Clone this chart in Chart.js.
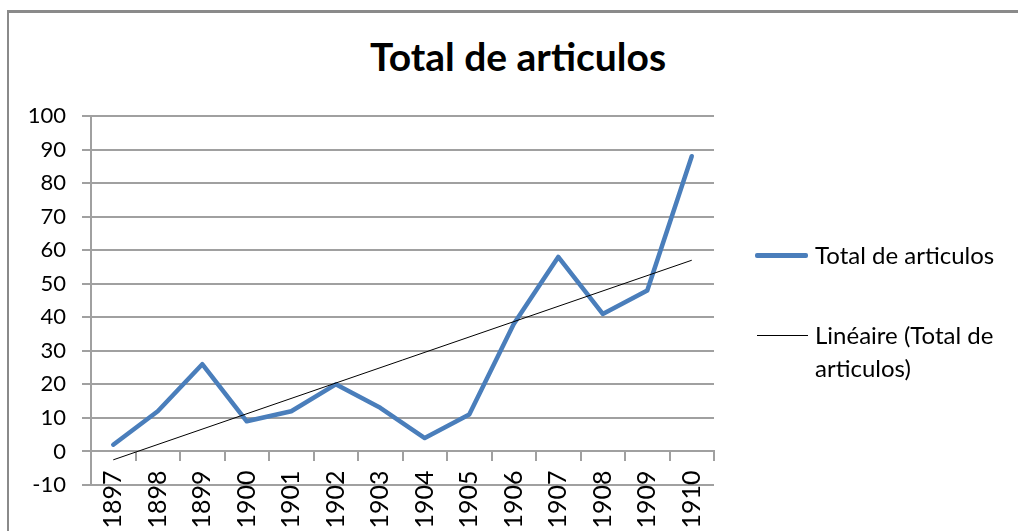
<!DOCTYPE html>
<html>
<head>
<meta charset="utf-8">
<script src="https://cdn.jsdelivr.net/npm/chart.js@4/dist/chart.umd.min.js"></script>
<style>
  html, body { margin: 0; padding: 0; background: #fff; }
  #wrap { position: relative; width: 1018px; height: 531px; overflow: hidden; font-family: Lato, sans-serif; }
  #frame { position: absolute; left: 7px; top: 10px; width: 1100px; height: 600px;
           border-top: 3px solid #8a8a8a; border-left: 2px solid #8a8a8a; }
  #title { position: absolute; left: 8px; width: 1020px; top: 33px; text-align: center;
           font-size: 39px; font-weight: bold; color: #000; }
  canvas { position: absolute; left: 0; top: 0; }
  .leg { position: absolute; font-size: 24px; color: #000; line-height: 33px; }
  .sw { position: absolute; }
</style>
</head>
<body>
<div id="wrap">
  <div id="frame"></div>
  <div id="title">Total de articulos</div>
  <canvas id="lineChart" width="1018" height="531"></canvas>
  <div class="sw" style="left:755px; top:253px; width:53px; height:5px; background:#4a7ebb; border-radius:2px;"></div>
  <div class="leg" style="left:815px; top:238px;">Total de articulos</div>
  <div class="sw" style="left:757px; top:335px; width:51px; height:1px; background:#000;"></div>
  <div class="leg" style="left:815px; top:318px;">Linéaire (Total de<br>articulos)</div>
</div>
<script>
const years = ['1897', '1898', '1899', '1900', '1901', '1902', '1903', '1904', '1905', '1906', '1907', '1908', '1909', '1910'];
const totalArticulos = [2, 12, 26, 9, 12, 20, 13, 4, 11, 38, 58, 41, 48, 88];
// trend line: only the two ends, drawn straight across
const trendLine = [-2.5, null, null, null, null, null, null, null, null, null, null, null, null, 57];
const yTicks = [-10, 0, 10, 20, 30, 40, 50, 60, 70, 80, 90, 100];

const gridGray = '#a0a0a0';

const ctx1 = document.getElementById('lineChart').getContext('2d');

const chartData1 = {
  labels: years,
  datasets: [{
    label: 'Total de articulos',
    data: totalArticulos,
    borderColor: '#4a7ebb',
    backgroundColor: '#4a7ebb',
    borderWidth: 4.5,
    borderJoinStyle: 'round',
    borderCapStyle: 'round',
    pointRadius: 0,
    tension: 0,
    order: 2
  }, {
    label: 'Linéaire (Total de articulos)',
    data: trendLine,
    borderColor: '#000',
    borderWidth: 1,
    pointRadius: 0,
    spanGaps: true,
    tension: 0,
    order: 1
  }]
};

const config1 = {
  type: 'line',
  data: chartData1,
  options: {
    responsive: false,
    animation: false,
    layout: {
      padding: { left: 0, top: 116, right: 304, bottom: 46 }
    },
    scales: {
      y: {
        min: -10,
        max: 100,
        afterBuildTicks: (s) => { s.ticks = yTicks.map(v => ({ value: v })); },
        afterFit: (s) => { s.width = 91; },
        grid: { color: gridGray, lineWidth: 2, tickLength: 9, tickColor: gridGray },
        border: { color: gridGray, width: 2 },
        ticks: { color: '#000', padding: 16, font: { family: 'Lato', size: 22 } }
      },
      x: {
        position: { y: 0 },
        offset: true,
        afterFit: (s) => { s.height = 0; },
        grid: { offset: true, drawOnChartArea: false, tickLength: 9, color: gridGray, lineWidth: 2 },
        border: { color: gridGray, width: 2 },
        ticks: {
          color: '#000', padding: 10, minRotation: 90, maxRotation: 90, autoSkip: false,
          font: { family: 'Lato', size: 25 }
        }
      }
    },
    plugins: {
      legend: { display: false },
      title: { display: false },
      tooltip: { enabled: false }
    }
  }
};

const myChart1 = new Chart(ctx1, config1);
</script>
</body>
</html>
